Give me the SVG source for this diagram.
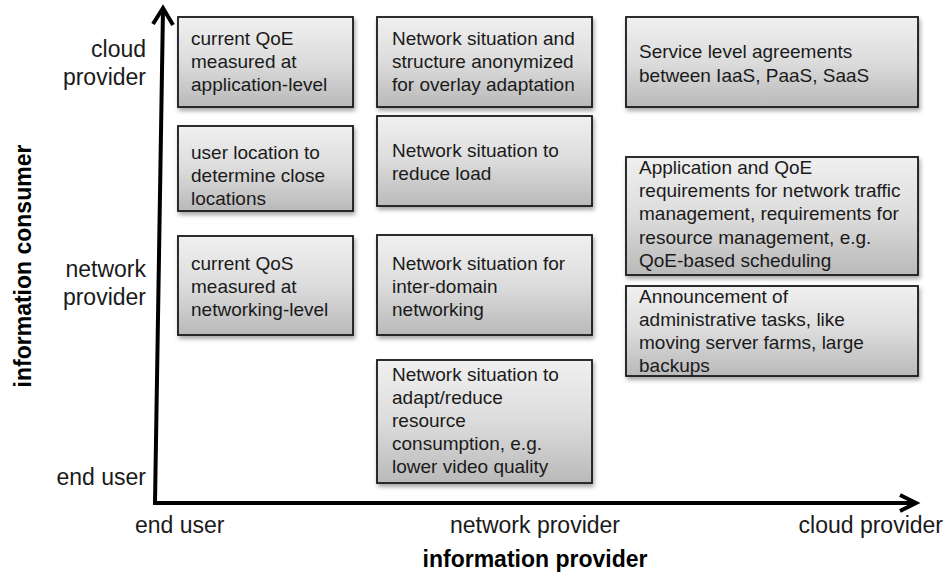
<svg xmlns="http://www.w3.org/2000/svg" width="948" height="577" viewBox="0 0 948 577">
<defs>
<linearGradient id="g" x1="0" y1="0" x2="0" y2="1">
<stop offset="0" stop-color="#f0f0f0"/>
<stop offset="0.5" stop-color="#dcdcdc"/>
<stop offset="1" stop-color="#b9b9b9"/>
</linearGradient>
<filter id="sh" x="-10%" y="-10%" width="125%" height="130%">
<feDropShadow dx="1.5" dy="3" stdDeviation="2" flood-color="#000" flood-opacity="0.35"/>
</filter>
</defs>
<style>
.box{fill:url(#g);stroke:#1a1a1a;stroke-width:1.8;filter:url(#sh)}
.t{font-family:"Liberation Sans",Arial,sans-serif;font-size:19px;fill:#1a1a1a}
.ax{font-family:"Liberation Sans",Arial,sans-serif;font-size:23px;fill:#1a1a1a}
.axb{font-family:"Liberation Sans",Arial,sans-serif;font-size:23px;font-weight:bold;fill:#000}
.axis{fill:none;stroke:#000;stroke-width:4;stroke-linejoin:miter}
.head{fill:none;stroke:#000;stroke-width:4;stroke-linecap:butt;stroke-linejoin:miter}
</style>
<rect width="948" height="577" fill="#fff"/>

<g id="connectors">
<path class="axis" d="M163,9 L155,503 L914,503"/>
<polyline class="head" points="153,24 163,8 173,25"/>
<polyline class="head" points="900,495 916,503 900,511"/>
</g>

<g id="axis-labels">
<text class="ax" x="146" y="57" text-anchor="end">cloud</text>
<text class="ax" x="146" y="85" text-anchor="end">provider</text>
<text class="ax" x="146" y="277" text-anchor="end">network</text>
<text class="ax" x="146" y="305" text-anchor="end">provider</text>
<text class="ax" x="146" y="485" text-anchor="end">end user</text>
<text class="axb" transform="translate(31,266) rotate(-90)" text-anchor="middle">information consumer</text>
<text class="ax" x="135" y="533">end user</text>
<text class="ax" x="535" y="533" text-anchor="middle">network provider</text>
<text class="ax" x="943" y="533" text-anchor="end">cloud provider</text>
<text class="axb" x="535" y="567" text-anchor="middle">information provider</text>
</g>

<g id="n-qoe-app">
<rect class="box" x="178" y="17" width="175" height="90"/>
<text class="t" x="191" y="45">current QoE</text>
<text class="t" x="191" y="68">measured at</text>
<text class="t" x="191" y="91">application-level</text>
</g>
<g id="n-user-location">
<rect class="box" x="178" y="126" width="175" height="85"/>
<text class="t" x="191" y="159">user location to</text>
<text class="t" x="191" y="182">determine close</text>
<text class="t" x="191" y="205">locations</text>
</g>
<g id="n-qos-net">
<rect class="box" x="178" y="236" width="175" height="99"/>
<text class="t" x="191" y="270">current QoS</text>
<text class="t" x="191" y="293">measured at</text>
<text class="t" x="191" y="316">networking-level</text>
</g>

<g id="n-overlay">
<rect class="box" x="377" y="17" width="215" height="90"/>
<text class="t" x="392" y="45">Network situation and</text>
<text class="t" x="392" y="68">structure anonymized</text>
<text class="t" x="392" y="91">for overlay adaptation</text>
</g>
<g id="n-reduce-load">
<rect class="box" x="377" y="116" width="215" height="90"/>
<text class="t" x="392" y="157">Network situation to</text>
<text class="t" x="392" y="180">reduce load</text>
</g>
<g id="n-inter-domain">
<rect class="box" x="377" y="235" width="215" height="100"/>
<text class="t" x="392" y="270">Network situation for</text>
<text class="t" x="392" y="293">inter-domain</text>
<text class="t" x="392" y="316">networking</text>
</g>
<g id="n-adapt">
<rect class="box" x="377" y="360" width="215" height="123"/>
<text class="t" x="392" y="381">Network situation to</text>
<text class="t" x="392" y="404">adapt/reduce</text>
<text class="t" x="392" y="427">resource</text>
<text class="t" x="392" y="450">consumption, e.g.</text>
<text class="t" x="392" y="473">lower video quality</text>
</g>

<g id="n-sla">
<rect class="box" x="626" y="17" width="292" height="90"/>
<text class="t" x="639" y="58">Service level agreements</text>
<text class="t" x="639" y="82">between IaaS, PaaS, SaaS</text>
</g>
<g id="n-app-req">
<rect class="box" x="626" y="157" width="292" height="118"/>
<text class="t" x="639" y="174">Application and QoE</text>
<text class="t" x="639" y="197">requirements for network traffic</text>
<text class="t" x="639" y="220">management, requirements for</text>
<text class="t" x="639" y="244">resource management, e.g.</text>
<text class="t" x="639" y="267">QoE-based scheduling</text>
</g>
<g id="n-admin">
<rect class="box" x="626" y="286" width="292" height="90"/>
<text class="t" x="639" y="303">Announcement of</text>
<text class="t" x="639" y="326">administrative tasks, like</text>
<text class="t" x="639" y="349">moving server farms, large</text>
<text class="t" x="639" y="372">backups</text>
</g>
</svg>
